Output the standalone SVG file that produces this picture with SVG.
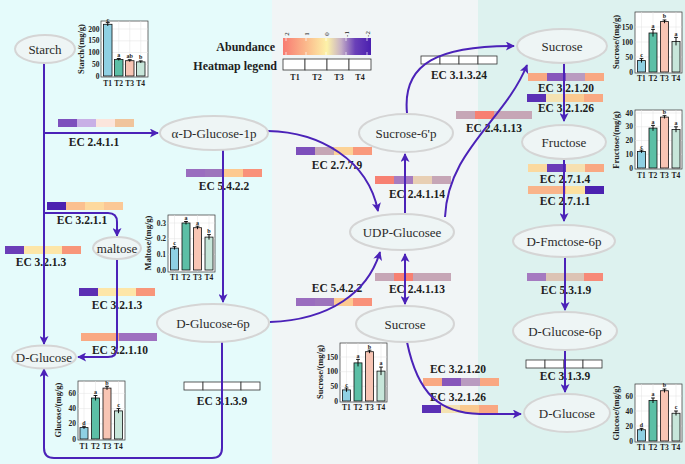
<svg xmlns="http://www.w3.org/2000/svg" width="685" height="464" viewBox="0 0 685 464">
<defs>
<marker id="ah" viewBox="0 0 10 10" refX="9" refY="5" markerWidth="10" markerHeight="9" markerUnits="userSpaceOnUse" orient="auto-start-reverse">
<path d="M0,0 L10,5 L0,10 L2.5,5 z" fill="#4b22b8"/>
</marker>
<linearGradient id="abund" x1="0" y1="0" x2="1" y2="0">
<stop offset="0" stop-color="#f87b72"/>
<stop offset="0.25" stop-color="#fbb68a"/>
<stop offset="0.5" stop-color="#fdf2a8"/>
<stop offset="0.66" stop-color="#c6b0c6"/>
<stop offset="0.82" stop-color="#6a40b8"/>
<stop offset="1" stop-color="#4a1fb0"/>
</linearGradient>
<style>
.node ellipse{fill:#eef5f5;stroke:#d5d5d5;stroke-width:2}
.nl{font-family:"Liberation Serif","Times New Roman",serif;font-size:13px;fill:#2b2b2b;text-anchor:middle}
.ec{font-family:"Liberation Serif","Times New Roman",serif;font-weight:bold;font-size:11.5px;fill:#1e1e1e;text-anchor:middle}
.conn path{fill:none;stroke:#4b22b8;stroke-width:2}
.wc{fill:#fff;stroke:#333;stroke-width:0.8}
.frame{fill:#fff;stroke:#333;stroke-width:0.7}
.grid{stroke:#e2e2e2;stroke-width:0.5}
.bar{stroke:#111;stroke-width:0.8}
.b1{fill:#8fd0e3}.b2{fill:#5cbfa6}.b3{fill:#f8c5b4}.b4{fill:#c7e6da}
.err{stroke:#000;stroke-width:0.9;fill:none}
.tk{font-family:"Liberation Serif",serif;font-weight:bold;font-size:7.5px;fill:#222;text-anchor:end}
.tl{font-family:"Liberation Serif",serif;font-weight:bold;font-size:7.5px;fill:#222;text-anchor:middle}
.yl{font-family:"Liberation Serif",serif;font-weight:bold;font-size:8.5px;fill:#222;text-anchor:middle}
.lt{font-family:"Liberation Serif",serif;font-weight:bold;font-size:6px;fill:#222;text-anchor:middle}
.lg{font-family:"Liberation Serif",serif;font-weight:bold;font-size:12px;fill:#1e1e1e;text-anchor:end}
.lgt{font-family:"Liberation Serif",serif;font-weight:bold;font-size:8px;fill:#222;text-anchor:middle}
.gt{font-family:"Liberation Serif",serif;font-size:7px;fill:#222;text-anchor:middle}
</style>
</defs>

<!-- background panels -->
<rect x="0" y="0" width="272" height="464" fill="#e5fbfb"/>
<rect x="272" y="0" width="206" height="464" fill="#f1f5f6"/>
<rect x="478" y="0" width="207" height="464" fill="#ddf2ef"/>

<!-- legend -->
<g id="legend">
<text class="lg" x="275" y="51">Abundance</text>
<text class="lg" x="277" y="70">Heatmap legend</text>
<rect x="283" y="38" width="88" height="17" fill="url(#abund)"/>
<g stroke="#fff" stroke-width="0.7">
<line x1="286" y1="38" x2="286" y2="41"/><line x1="286" y1="52" x2="286" y2="55"/>
<line x1="306" y1="38" x2="306" y2="41"/><line x1="306" y1="52" x2="306" y2="55"/>
<line x1="326" y1="38" x2="326" y2="41"/><line x1="326" y1="52" x2="326" y2="55"/>
<line x1="346" y1="38" x2="346" y2="41"/><line x1="346" y1="52" x2="346" y2="55"/>
<line x1="367" y1="38" x2="367" y2="41"/><line x1="367" y1="52" x2="367" y2="55"/>
</g>
<text class="gt" transform="translate(288.5,34) rotate(-90)">2</text>
<text class="gt" transform="translate(308.5,34) rotate(-90)">1</text>
<text class="gt" transform="translate(328.5,34) rotate(-90)">0</text>
<text class="gt" transform="translate(348.5,34) rotate(-90)">-1</text>
<text class="gt" transform="translate(369.5,34) rotate(-90)">-2</text>
<rect class="wc" x="283" y="59" width="22" height="11"/>
<rect class="wc" x="305" y="59" width="22" height="11"/>
<rect class="wc" x="327" y="59" width="22" height="11"/>
<rect class="wc" x="349" y="59" width="22" height="11"/>
<text class="lgt" x="295" y="80">T1</text>
<text class="lgt" x="317" y="80">T2</text>
<text class="lgt" x="339" y="80">T3</text>
<text class="lgt" x="360" y="80">T4</text>
</g>

<!-- heatmap bars with EC labels -->
<g id="ec-2.4.1.1"><rect x="58" y="119" width="19" height="8" fill="#7d50bd"/><rect x="77" y="119" width="19" height="8" fill="#c8b0e6"/><rect x="96" y="119" width="19" height="8" fill="#fbe5dc"/><rect x="115" y="119" width="19" height="8" fill="#f0c49c"/><text class="ec" x="94" y="146">EC 2.4.1.1</text></g>
<g id="ec-5.4.2.2-a"><rect x="186" y="169" width="19" height="8" fill="#9a6dbf"/><rect x="205" y="169" width="19" height="8" fill="#9d74bc"/><rect x="224" y="169" width="19" height="8" fill="#fdc990"/><rect x="243" y="169" width="19" height="8" fill="#f9917a"/><text class="ec" x="224" y="190">EC 5.4.2.2</text></g>
<g id="ec-3.2.1.1"><rect x="47" y="202" width="19" height="8" fill="#4c22b0"/><rect x="66" y="202" width="19" height="8" fill="#fbc08f"/><rect x="85" y="202" width="19" height="8" fill="#fdd99e"/><rect x="104" y="202" width="19" height="8" fill="#fbc896"/><text class="ec" x="82" y="224">EC 3.2.1.1</text></g>
<g id="ec-3.2.1.3-a"><rect x="5" y="246" width="19" height="8" fill="#6b3db8"/><rect x="24" y="246" width="19" height="8" fill="#fde6a8"/><rect x="43" y="246" width="19" height="8" fill="#fde6a8"/><rect x="62" y="246" width="19" height="8" fill="#f8967a"/><text class="ec" x="41" y="266">EC 3.2.1.3</text></g>
<g id="ec-3.2.1.3-b"><rect x="79" y="288" width="19" height="8" fill="#5b2fb3"/><rect x="98" y="288" width="19" height="8" fill="#fde6a8"/><rect x="117" y="288" width="19" height="8" fill="#fde6a8"/><rect x="136" y="288" width="19" height="8" fill="#f8967a"/><text class="ec" x="117" y="309">EC 3.2.1.3</text></g>
<g id="ec-3.2.1.10"><rect x="81" y="333" width="19" height="8" fill="#f9a983"/><rect x="100" y="333" width="19" height="8" fill="#f9a983"/><rect x="119" y="333" width="19" height="8" fill="#9e70c0"/><rect x="138" y="333" width="19" height="8" fill="#9e70c0"/><text class="ec" x="120" y="354">EC 3.2.1.10</text></g>
<g id="ec-3.1.3.9-a"><rect class="wc" x="184" y="382" width="19" height="8"/><rect class="wc" x="203" y="382" width="19" height="8"/><rect class="wc" x="222" y="382" width="19" height="8"/><rect class="wc" x="241" y="382" width="19" height="8"/><text class="ec" x="222" y="405">EC 3.1.3.9</text></g>
<g id="ec-2.7.7.9"><rect x="296" y="147" width="19" height="8" fill="#7d4fbb"/><rect x="315" y="147" width="19" height="8" fill="#c5a5b5"/><rect x="334" y="147" width="19" height="8" fill="#fcd296"/><rect x="353" y="147" width="19" height="8" fill="#f9997c"/><text class="ec" x="337" y="169">EC 2.7.7.9</text></g>
<g id="ec-2.4.1.14"><rect x="375" y="176" width="19" height="8" fill="#f78072"/><rect x="394" y="176" width="19" height="8" fill="#a77cc0"/><rect x="413" y="176" width="19" height="8" fill="#e8cfb4"/><rect x="432" y="176" width="19" height="8" fill="#c6a6b6"/><text class="ec" x="417" y="198">EC 2.4.1.14</text></g>
<g id="ec-3.1.3.24"><rect class="wc" x="421" y="56" width="19" height="8"/><rect class="wc" x="440" y="56" width="19" height="8"/><rect class="wc" x="459" y="56" width="19" height="8"/><rect class="wc" x="478" y="56" width="19" height="8"/><text class="ec" x="459" y="79">EC 3.1.3.24</text></g>
<g id="ec-2.4.1.13-a"><rect x="456" y="111" width="19" height="8" fill="#c6a6b6"/><rect x="475" y="111" width="19" height="8" fill="#f78072"/><rect x="494" y="111" width="19" height="8" fill="#c6a6b6"/><rect x="513" y="111" width="19" height="8" fill="#c6a6b6"/><text class="ec" x="494" y="132">EC 2.4.1.13</text></g>
<g id="ec-5.4.2.2-b"><rect x="296" y="298" width="19" height="8" fill="#9a6dbf"/><rect x="315" y="298" width="19" height="8" fill="#9d74bc"/><rect x="334" y="298" width="19" height="8" fill="#fdc990"/><rect x="353" y="298" width="19" height="8" fill="#f9917a"/><text class="ec" x="337" y="292">EC 5.4.2.2</text></g>
<g id="ec-2.4.1.13-b"><rect x="375" y="273" width="19" height="8" fill="#c6a6b6"/><rect x="394" y="273" width="19" height="8" fill="#f78072"/><rect x="413" y="273" width="19" height="8" fill="#c6a6b6"/><rect x="432" y="273" width="19" height="8" fill="#c6a6b6"/><text class="ec" x="417" y="293">EC 2.4.1.13</text></g>
<g id="ec-3.2.1.20-b"><rect x="423" y="378" width="19" height="8" fill="#f9a882"/><rect x="442" y="378" width="19" height="8" fill="#8757bb"/><rect x="461" y="378" width="19" height="8" fill="#b99bc0"/><rect x="480" y="378" width="19" height="8" fill="#f9a882"/><text class="ec" x="458" y="373">EC 3.2.1.20</text></g>
<g id="ec-3.2.1.26-b"><rect x="422" y="405" width="19" height="8" fill="#5a30b5"/><rect x="441" y="405" width="19" height="8" fill="#f4e2b2"/><rect x="460" y="405" width="19" height="8" fill="#fac98f"/><rect x="479" y="405" width="19" height="8" fill="#f9a882"/><text class="ec" x="458" y="401">EC 3.2.1.26</text></g>
<g id="ec-3.2.1.20-a"><rect x="528" y="73" width="19" height="8" fill="#f9a882"/><rect x="547" y="73" width="19" height="8" fill="#8757bb"/><rect x="566" y="73" width="19" height="8" fill="#b99bc0"/><rect x="585" y="73" width="19" height="8" fill="#f9a882"/><text class="ec" x="566" y="92">EC 3.2.1.20</text></g>
<g id="ec-3.2.1.26-a"><rect x="527" y="94" width="19" height="8" fill="#5a30b5"/><rect x="546" y="94" width="19" height="8" fill="#f4e2b2"/><rect x="565" y="94" width="19" height="8" fill="#fac98f"/><rect x="584" y="94" width="19" height="8" fill="#f9a882"/><text class="ec" x="566" y="112">EC 3.2.1.26</text></g>
<g id="ec-2.7.1.4"><rect x="528" y="164" width="19" height="8" fill="#fbd99f"/><rect x="547" y="164" width="19" height="8" fill="#6a3db8"/><rect x="566" y="164" width="19" height="8" fill="#f6e0b0"/><rect x="585" y="164" width="19" height="8" fill="#f9a882"/><text class="ec" x="565" y="183">EC 2.7.1.4</text></g>
<g id="ec-2.7.1.1"><rect x="528" y="186" width="19" height="8" fill="#f9b48a"/><rect x="547" y="186" width="19" height="8" fill="#f9b48a"/><rect x="566" y="186" width="19" height="8" fill="#fde2a0"/><rect x="585" y="186" width="19" height="8" fill="#4b22b0"/><text class="ec" x="565" y="205">EC 2.7.1.1</text></g>
<g id="ec-5.3.1.9"><rect x="527" y="273" width="19" height="8" fill="#a57ac0"/><rect x="546" y="273" width="19" height="8" fill="#dcc3b4"/><rect x="565" y="273" width="19" height="8" fill="#dcc3b4"/><rect x="584" y="273" width="19" height="8" fill="#f78a78"/><text class="ec" x="566" y="294">EC 5.3.1.9</text></g>
<g id="ec-3.1.3.9-b"><rect class="wc" x="526" y="360" width="19" height="8"/><rect class="wc" x="545" y="360" width="19" height="8"/><rect class="wc" x="564" y="360" width="19" height="8"/><rect class="wc" x="583" y="360" width="19" height="8"/><text class="ec" x="565" y="380">EC 3.1.3.9</text></g>

<!-- connectors -->
<g id="connectors" class="conn">
<path d="M44,63 V344" marker-end="url(#ah)"/>
<path d="M44,133 H158" marker-end="url(#ah)"/>
<path d="M44,213 H108 Q117,213 117,222 V236" marker-end="url(#ah)"/>
<path d="M117,259 V348 Q117,357 108,357 H78" marker-end="url(#ah)"/>
<path d="M223,150 V302" marker-end="url(#ah)"/>
<path d="M222,342 V448 Q222,458 212,458 H54 Q44,458 44,448 V369" marker-end="url(#ah)"/>
<path d="M268,131 C320,132 368,160 378,211" marker-end="url(#ah)"/>
<path d="M270,322 C330,320 368,292 380,252" marker-end="url(#ah)"/>
<path d="M405,213 V154" marker-end="url(#ah)"/>
<path d="M407,113 C402,62 440,46 514,46" marker-end="url(#ah)"/>
<path d="M445,217 C448,150 505,120 527,65" marker-end="url(#ah)"/>
<path d="M405,254 V304" marker-start="url(#ah)" marker-end="url(#ah)"/>
<path d="M407,342 C418,395 440,413 480,414 L521,414" marker-end="url(#ah)"/>
<path d="M564,63 V121" marker-end="url(#ah)"/>
<path d="M564,159 V221" marker-end="url(#ah)"/>
<path d="M565,257 V310" marker-end="url(#ah)"/>
<path d="M565,350 V392" marker-end="url(#ah)"/>
</g>

<!-- nodes -->
<g id="n-starch" class="node"><ellipse cx="45" cy="49" rx="30" ry="14"/><text class="nl" x="45" y="53.5">Starch</text></g>
<g id="n-ag1p" class="node"><ellipse cx="214" cy="133" rx="54" ry="17"/><text class="nl" x="214" y="137.5">α-D-Glucose-1p</text></g>
<g id="n-sucrose-top" class="node"><ellipse cx="562" cy="46" rx="45" ry="17"/><text class="nl" x="562" y="50.5">Sucrose</text></g>
<g id="n-s6p" class="node"><ellipse cx="406" cy="133" rx="47" ry="19"/><text class="nl" x="406" y="137.5">Sucrose-6'p</text></g>
<g id="n-udpg" class="node"><ellipse cx="402" cy="232" rx="52" ry="18"/><text class="nl" x="402" y="236.5">UDP-Glucosee</text></g>
<g id="n-sucrose-mid" class="node"><ellipse cx="405" cy="324" rx="49" ry="18"/><text class="nl" x="405" y="328.5">Sucrose</text></g>
<g id="n-fructose" class="node"><ellipse cx="564" cy="142" rx="42" ry="17"/><text class="nl" x="564" y="146.5">Fructose</text></g>
<g id="n-f6p" class="node"><ellipse cx="564" cy="241" rx="51" ry="16"/><text class="nl" x="564" y="245.5">D-Fmctose-6p</text></g>
<g id="n-g6p-right" class="node"><ellipse cx="565" cy="331" rx="52" ry="19"/><text class="nl" x="565" y="335.5">D-Glucose-6p</text></g>
<g id="n-glucose-right" class="node"><ellipse cx="567" cy="413" rx="43" ry="19"/><text class="nl" x="567" y="417.5">D-Glucose</text></g>
<g id="n-maltose" class="node"><ellipse cx="117" cy="248" rx="24" ry="11"/><text class="nl" x="117" y="252.5">maltose</text></g>
<g id="n-g6p-left" class="node"><ellipse cx="213" cy="323" rx="56" ry="19"/><text class="nl" x="213" y="327.5">D-Glucose-6p</text></g>
<g id="n-glucose-left" class="node"><ellipse cx="44" cy="357" rx="32" ry="11.5"/><text class="nl" x="44" y="361.5">D-Glucose</text></g>

<!-- chart: starch -->
<g id="chart-starch">
<rect class="frame" x="101" y="21" width="47" height="56"/>
<g class="grid"><line x1="101" y1="29" x2="148" y2="29"/><line x1="101" y1="40.8" x2="148" y2="40.8"/><line x1="101" y1="52.5" x2="148" y2="52.5"/><line x1="101" y1="64.3" x2="148" y2="64.3"/><line x1="107.75" y1="21" x2="107.75" y2="77"/><line x1="118.75" y1="21" x2="118.75" y2="77"/><line x1="129.75" y1="21" x2="129.75" y2="77"/><line x1="140.75" y1="21" x2="140.75" y2="77"/></g>
<rect class="bar b1" x="103.5" y="24.3" width="8.5" height="51.7"/>
<rect class="bar b2" x="114.5" y="59.5" width="8.5" height="16.5"/>
<rect class="bar b3" x="125.5" y="60.7" width="8.5" height="15.3"/>
<rect class="bar b4" x="136.5" y="61.9" width="8.5" height="14.1"/>
<path class="err" d="M107.75,22.6V26M105.8,22.6H109.7M118.75,58.5V60.5M116.8,58.5H120.7M129.75,59.7V61.7M127.8,59.7H131.7M140.75,60.9V62.9M138.8,60.9H142.7"/>
<text class="lt" x="107.75" y="21.5">c</text><text class="lt" x="118.75" y="57">a</text><text class="lt" x="129.75" y="58.2">ab</text><text class="lt" x="140.75" y="59.4">b</text>
<text class="tk" x="99.5" y="31.5">200</text><text class="tk" x="99.5" y="43.3">150</text><text class="tk" x="99.5" y="55">100</text><text class="tk" x="99.5" y="66.8">50</text><text class="tk" x="99.5" y="78.5">0</text>
<text class="tl" x="107.75" y="86">T1</text><text class="tl" x="118.75" y="86">T2</text><text class="tl" x="129.75" y="86">T3</text><text class="tl" x="140.75" y="86">T4</text>
<text class="yl" transform="translate(84,49) rotate(-90)">Starch/(mg/g)</text>
</g>

<!-- chart: maltose -->
<g id="chart-maltose">
<rect class="frame" x="168" y="215" width="47" height="57"/>
<g class="grid"><line x1="168" y1="223" x2="215" y2="223"/><line x1="168" y1="238.7" x2="215" y2="238.7"/><line x1="168" y1="254.3" x2="215" y2="254.3"/><line x1="174.5" y1="215" x2="174.5" y2="272"/><line x1="186" y1="215" x2="186" y2="272"/><line x1="197.5" y1="215" x2="197.5" y2="272"/><line x1="209" y1="215" x2="209" y2="272"/></g>
<rect class="bar b1" x="170.5" y="248.1" width="8" height="21.9"/>
<rect class="bar b2" x="182" y="223" width="8" height="47"/>
<rect class="bar b3" x="193.5" y="227.7" width="8" height="42.3"/>
<rect class="bar b4" x="205" y="237.1" width="8" height="32.9"/>
<path class="err" d="M174.5,246.6V249.6M172.6,246.6H176.4M186,221.5V224.5M184.1,221.5H187.9M197.5,226.2V229.2M195.6,226.2H199.4M209,234.6V239.6M207.1,234.6H210.9"/>
<text class="lt" x="174.5" y="244.5">c</text><text class="lt" x="186" y="220">a</text><text class="lt" x="197.5" y="224.6">a</text><text class="lt" x="209" y="232.5">b</text>
<text class="tk" x="166" y="225.5">0.3</text><text class="tk" x="166" y="241.2">0.2</text><text class="tk" x="166" y="256.8">0.1</text><text class="tk" x="166" y="272.5">0.0</text>
<text class="tl" x="174.5" y="280">T1</text><text class="tl" x="186" y="280">T2</text><text class="tl" x="197.5" y="280">T3</text><text class="tl" x="209" y="280">T4</text>
<text class="yl" transform="translate(151,243) rotate(-90)">Maltose/(mg/g)</text>
</g>

<!-- chart: glucose left -->
<g id="chart-glucose-left">
<rect class="frame" x="78" y="381" width="47" height="59"/>
<g class="grid"><line x1="78" y1="393.4" x2="125" y2="393.4"/><line x1="78" y1="408.6" x2="125" y2="408.6"/><line x1="78" y1="423.8" x2="125" y2="423.8"/><line x1="84" y1="381" x2="84" y2="440"/><line x1="95.5" y1="381" x2="95.5" y2="440"/><line x1="107" y1="381" x2="107" y2="440"/><line x1="118.5" y1="381" x2="118.5" y2="440"/></g>
<rect class="bar b1" x="80" y="427.6" width="8" height="11.4"/>
<rect class="bar b2" x="91.5" y="398" width="8" height="41"/>
<rect class="bar b3" x="103" y="388.1" width="8" height="50.9"/>
<rect class="bar b4" x="114.5" y="410.9" width="8" height="28.1"/>
<path class="err" d="M84,426.3V428.9M82.1,426.3H85.9M95.5,395.5V400.5M93.6,395.5H97.4M107,386.3V389.9M105.1,386.3H108.9M118.5,408.6V413.2M116.6,408.6H120.4"/>
<text class="lt" x="84" y="424.5">d</text><text class="lt" x="95.5" y="393.5">a</text><text class="lt" x="107" y="384.5">b</text><text class="lt" x="118.5" y="406.5">c</text>
<text class="tk" x="76" y="395.9">60</text><text class="tk" x="76" y="411.1">40</text><text class="tk" x="76" y="426.3">20</text><text class="tk" x="76" y="441.5">0</text>
<text class="tl" x="84" y="449">T1</text><text class="tl" x="95.5" y="449">T2</text><text class="tl" x="107" y="449">T3</text><text class="tl" x="118.5" y="449">T4</text>
<text class="yl" transform="translate(61,410) rotate(-90)">Glucose/(mg/g)</text>
</g>

<!-- chart: sucrose middle -->
<g id="chart-sucrose-mid">
<rect class="frame" x="340" y="343" width="47" height="59"/>
<g class="grid"><line x1="340" y1="357" x2="387" y2="357"/><line x1="340" y1="371.7" x2="387" y2="371.7"/><line x1="340" y1="386.3" x2="387" y2="386.3"/><line x1="346.5" y1="343" x2="346.5" y2="402"/><line x1="358" y1="343" x2="358" y2="402"/><line x1="369.5" y1="343" x2="369.5" y2="402"/><line x1="381" y1="343" x2="381" y2="402"/></g>
<rect class="bar b1" x="342.5" y="389.9" width="8" height="11.1"/>
<rect class="bar b2" x="354" y="362.9" width="8" height="38.1"/>
<rect class="bar b3" x="365.5" y="351.7" width="8" height="49.3"/>
<rect class="bar b4" x="377" y="371.1" width="8" height="29.9"/>
<path class="err" d="M346.5,388V391.8M344.6,388H348.4M358,359.4V366.4M356.1,359.4H359.9M369.5,350.2V353.2M367.6,350.2H371.4M381,367.1V375.1M379.1,367.1H382.9"/>
<text class="lt" x="346.5" y="386.5">c</text><text class="lt" x="358" y="357.5">a</text><text class="lt" x="369.5" y="348.5">b</text><text class="lt" x="381" y="365">a</text>
<text class="tk" x="338" y="359.5">150</text><text class="tk" x="338" y="374.2">100</text><text class="tk" x="338" y="388.8">50</text><text class="tk" x="338" y="403.5">0</text>
<text class="tl" x="346.5" y="410">T1</text><text class="tl" x="358" y="410">T2</text><text class="tl" x="369.5" y="410">T3</text><text class="tl" x="381" y="410">T4</text>
<text class="yl" transform="translate(323,372) rotate(-90)">Sucrose/(mg/g)</text>
</g>

<!-- chart: sucrose right -->
<g id="chart-sucrose-right">
<rect class="frame" x="635" y="12" width="47" height="61"/>
<g class="grid"><line x1="635" y1="27" x2="682" y2="27"/><line x1="635" y1="42" x2="682" y2="42"/><line x1="635" y1="57" x2="682" y2="57"/><line x1="641.5" y1="12" x2="641.5" y2="73"/><line x1="653" y1="12" x2="653" y2="73"/><line x1="664.5" y1="12" x2="664.5" y2="73"/><line x1="676" y1="12" x2="676" y2="73"/></g>
<rect class="bar b1" x="637.5" y="60.6" width="8" height="11.4"/>
<rect class="bar b2" x="649" y="33" width="8" height="39"/>
<rect class="bar b3" x="660.5" y="21.6" width="8" height="50.4"/>
<rect class="bar b4" x="672" y="41.4" width="8" height="30.6"/>
<path class="err" d="M641.5,58.6V62.6M639.6,58.6H643.4M653,29.4V36.6M651.1,29.4H654.9M664.5,20V23.2M662.6,20H666.4M676,37.4V45.4M674.1,37.4H677.9"/>
<text class="lt" x="641.5" y="57">c</text><text class="lt" x="653" y="27.5">a</text><text class="lt" x="664.5" y="18.2">b</text><text class="lt" x="676" y="35.5">a</text>
<text class="tk" x="633" y="29.5">150</text><text class="tk" x="633" y="44.5">100</text><text class="tk" x="633" y="59.5">50</text><text class="tk" x="633" y="74.5">0</text>
<text class="tl" x="641.5" y="80.5">T1</text><text class="tl" x="653" y="80.5">T2</text><text class="tl" x="664.5" y="80.5">T3</text><text class="tl" x="676" y="80.5">T4</text>
<text class="yl" transform="translate(619,42) rotate(-90)">Sucrose/(mg/g)</text>
</g>

<!-- chart: fructose -->
<g id="chart-fructose">
<rect class="frame" x="635" y="110" width="47" height="59"/>
<g class="grid"><line x1="635" y1="113" x2="682" y2="113"/><line x1="635" y1="126.75" x2="682" y2="126.75"/><line x1="635" y1="140.5" x2="682" y2="140.5"/><line x1="635" y1="154.25" x2="682" y2="154.25"/><line x1="641.5" y1="110" x2="641.5" y2="169"/><line x1="653" y1="110" x2="653" y2="169"/><line x1="664.5" y1="110" x2="664.5" y2="169"/><line x1="676" y1="110" x2="676" y2="169"/></g>
<rect class="bar b1" x="637.5" y="151.5" width="8" height="16.5"/>
<rect class="bar b2" x="649" y="128.1" width="8" height="39.9"/>
<rect class="bar b3" x="660.5" y="117.1" width="8" height="50.9"/>
<rect class="bar b4" x="672" y="129.5" width="8" height="38.5"/>
<path class="err" d="M641.5,150.1V152.9M639.6,150.1H643.4M653,125.4V130.8M651.1,125.4H654.9M664.5,115.7V118.5M662.6,115.7H666.4M676,126.8V132.2M674.1,126.8H677.9"/>
<text class="lt" x="641.5" y="148.5">c</text><text class="lt" x="653" y="123.5">a</text><text class="lt" x="664.5" y="114">b</text><text class="lt" x="676" y="125">a</text>
<text class="tk" x="633" y="115.5">40</text><text class="tk" x="633" y="129.25">30</text><text class="tk" x="633" y="143">20</text><text class="tk" x="633" y="156.75">10</text><text class="tk" x="633" y="170.5">0</text>
<text class="tl" x="641.5" y="177.5">T1</text><text class="tl" x="653" y="177.5">T2</text><text class="tl" x="664.5" y="177.5">T3</text><text class="tl" x="676" y="177.5">T4</text>
<text class="yl" transform="translate(619,140) rotate(-90)">Fructose/(mg/g)</text>
</g>

<!-- chart: glucose right -->
<g id="chart-glucose-right">
<rect class="frame" x="635" y="384" width="47" height="58"/>
<g class="grid"><line x1="635" y1="396" x2="682" y2="396"/><line x1="635" y1="411" x2="682" y2="411"/><line x1="635" y1="426" x2="682" y2="426"/><line x1="641.5" y1="384" x2="641.5" y2="442"/><line x1="653" y1="384" x2="653" y2="442"/><line x1="664.5" y1="384" x2="664.5" y2="442"/><line x1="676" y1="384" x2="676" y2="442"/></g>
<rect class="bar b1" x="637.5" y="429.75" width="8" height="11.25"/>
<rect class="bar b2" x="649" y="400.5" width="8" height="40.5"/>
<rect class="bar b3" x="660.5" y="390.75" width="8" height="50.25"/>
<rect class="bar b4" x="672" y="413.25" width="8" height="27.75"/>
<path class="err" d="M641.5,428.4V431.1M639.6,428.4H643.4M653,398V403M651.1,398H654.9M664.5,389V392.5M662.6,389H666.4M676,411V415.5M674.1,411H677.9"/>
<text class="lt" x="641.5" y="426.5">d</text><text class="lt" x="653" y="396">a</text><text class="lt" x="664.5" y="387.2">b</text><text class="lt" x="676" y="409">c</text>
<text class="tk" x="633" y="398.5">60</text><text class="tk" x="633" y="413.5">40</text><text class="tk" x="633" y="428.5">20</text><text class="tk" x="633" y="443.5">0</text>
<text class="tl" x="641.5" y="450">T1</text><text class="tl" x="653" y="450">T2</text><text class="tl" x="664.5" y="450">T3</text><text class="tl" x="676" y="450">T4</text>
<text class="yl" transform="translate(619,413) rotate(-90)">Glucose/(mg/g)</text>
</g>
</svg>
